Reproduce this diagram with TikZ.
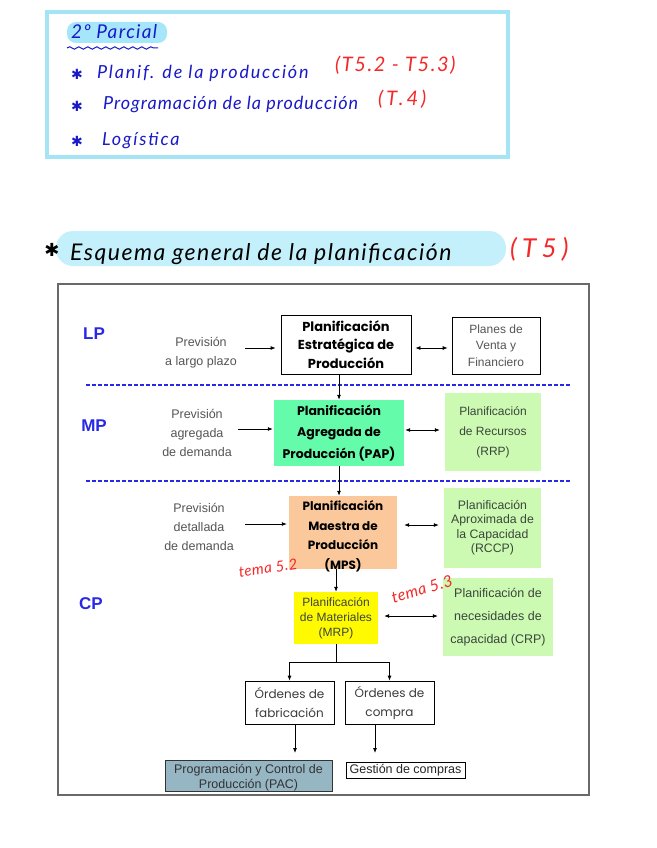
\documentclass[tikz,border=0pt]{standalone}
\usepackage{fontspec}
\setmainfont{Liberation Sans}
\newfontfamily\gothic{Poppins}
\newfontfamily\hand{Lato}
\newfontfamily\symb{DejaVu Sans}
\usetikzlibrary{arrows.meta,decorations.pathmorphing,calc}
\definecolor{boxcyan}{RGB}{165,228,245}
\definecolor{hlcyan}{RGB}{165,230,250}
\definecolor{titlecyan}{RGB}{196,240,251}
\definecolor{hwblue}{RGB}{25,25,200}
\definecolor{hwred}{RGB}{245,40,40}
\definecolor{framegray}{RGB}{105,105,105}
\definecolor{lvblue}{RGB}{40,40,230}
\definecolor{txtgray}{RGB}{85,85,85}
\definecolor{papgreen}{RGB}{100,252,170}
\definecolor{ltgreen}{RGB}{204,250,178}
\definecolor{peach}{RGB}{250,200,155}
\definecolor{mrpyellow}{RGB}{255,250,0}
\definecolor{pacblue}{RGB}{150,182,196}
\definecolor{dtext}{RGB}{60,70,60}
\newcommand{\hw}[2]{\hand\itshape\fontsize{#1}{#1}\selectfont\addfontfeatures{LetterSpace=#2}}
\tikzset{
  arr/.style={-{Latex[length=5pt,width=4pt]}, line width=0.8pt},
  darr/.style={{Latex[length=5pt,width=4pt]}-{Latex[length=5pt,width=4pt]}, line width=0.8pt},
  bx/.style={align=center, inner sep=0pt, anchor=center},
  gtext/.style={bx, text=txtgray, font=\fontsize{12.5}{19}\selectfont},
  lvl/.style={bx, text=lvblue, font=\fontsize{17}{17}\bfseries\selectfont},
  hwt/.style={inner sep=0pt, anchor=base west},
  astk/.style={inner sep=0pt, anchor=center, font=\symb\fontsize{14}{14}\selectfont},
  dline/.style={lvblue, line width=1.3pt, dash pattern=on 4pt off 2pt}
}
\begin{document}
\begin{tikzpicture}[x=1pt,y=-1pt]
\useasboundingbox[fill=white] (0,0) rectangle (656,848);
% ---- top note box
\draw[draw=boxcyan, line width=3.5pt] (47,12) rectangle (508,157);
\fill[hlcyan, rounded corners=9pt] (67,22) rectangle (167,43);
\node[hwt, text=hwblue, font=\hw{19}{7}] (t0) at (71,39) {2º Parcial};
\draw[hwblue, line width=1pt, decorate, decoration={snake, amplitude=1.2pt, segment length=9pt}] (67,48) -- (158,48);
\node[astk, text=hwblue] (s1) at (77,74) {✱};
\node[hwt, text=hwblue, font=\hw{18}{10}] (t1) at (97,79) {Planif. de la producción};
\node[hwt, text=hwred, font=\hw{20}{8}] (t1r) at (335,72) {(T5.2 - T5.3)};
\node[astk, text=hwblue] (s2) at (77,106) {✱};
\node[hwt, text=hwblue, font=\hw{18}{5.5}] (t2) at (103,110) {Programación de la producción};
\node[hwt, text=hwred, font=\hw{20}{15}] (t2r) at (378,106) {(T.4)};
\node[astk, text=hwblue] (s3) at (77,141) {✱};
\node[hwt, text=hwblue, font=\hw{18}{10}] (t3) at (102,145) {Logística};
% ---- title
\fill[titlecyan, rounded corners=17pt] (56,231) rectangle (506,266);
\node[astk, font=\symb\fontsize{18}{18}\selectfont] (s4) at (52,250) {✱};
\node[hwt, font=\hw{23}{6.5}] (title) at (70,260) {Esquema general de la planificación};
\node[hwt, text=hwred, font=\hw{26}{20}] (t5) at (510,257) {(T5)};
% ---- frame
\draw[draw=framegray, line width=2.5pt] (58,284) rectangle (589,795);
\draw[dline] (86,385) -- (571,385);
\draw[dline] (86,481) -- (571,481);
\node[lvl] (lp) at (94,334) {LP};
\node[lvl] (mp) at (94,426) {MP};
\node[lvl] (cp) at (91,604) {CP};
% ---- LP
\node[gtext] (prev1) at (201,353) {Previsión\\a largo plazo};
\node[bx, draw=black, line width=0.8pt, minimum width=130, minimum height=59, font=\gothic\bfseries\fontsize{13}{18.5}\selectfont] (pep) at (346,344.5) {Planificación\\Estratégica de\\Producción};
\node[bx, draw=black, line width=0.7pt, minimum width=88, minimum height=57, text=txtgray, font=\fontsize{12}{16.5}\selectfont] (plan) at (496,345.5) {Planes de\\Venta y\\Financiero};
% ---- MP
\node[gtext] (prev2) at (197,433) {Previsión\\agregada\\de demanda};
\node[bx, fill=papgreen, minimum width=130, minimum height=66, font=\gothic\bfseries\fontsize{12.5}{21.5}\selectfont] (pap) at (339,433) {Planificación\\Agregada de\\Producción (PAP)};
\node[bx, fill=ltgreen, minimum width=96, minimum height=78, text=dtext, font=\fontsize{12}{20}\selectfont] (rrp) at (493,432) {Planificación\\de Recursos\\(RRP)};
% ---- CP
\node[gtext] (prev3) at (199,527) {Previsión\\detallada\\de demanda};
\node[bx, fill=peach, minimum width=108, minimum height=73] (mps) at (343,532.5) {};
\node[bx, font=\gothic\bfseries\fontsize{12}{19.5}\selectfont] (mpstxt) at ([yshift=-3.5pt]mps.center) {Planificación\\Maestra de\\Producción\\(MPS)};
\node[bx, fill=ltgreen, minimum width=97, minimum height=80, text=dtext, font=\fontsize{12.3}{14.5}\selectfont] (rccp) at (492.5,527.5) {Planificación\\Aproximada de\\la Capacidad\\(RCCP)};
\node[bx, fill=mrpyellow, minimum width=84, minimum height=52, text=dtext, font=\fontsize{12}{15}\selectfont] (mrp) at (336,618) {Planificación\\de Materiales\\(MRP)};
\node[bx, fill=ltgreen, minimum width=110, minimum height=78, text=dtext, font=\fontsize{12.5}{23}\selectfont] (crp) at (498,617) {Planificación de\\necesidades de\\capacidad (CRP)};
\node[bx, draw=black, line width=0.7pt, minimum width=89, minimum height=43, text=txtgray!70!black, font=\gothic\fontsize{12}{19}\selectfont] (of) at (289.5,702.5) {Órdenes de\\fabricación};
\node[bx, draw=black, line width=0.7pt, minimum width=89, minimum height=43, text=txtgray!70!black, font=\gothic\fontsize{12}{19}\selectfont] (oc) at (389.5,702.5) {Órdenes de\\compra};
\node[bx, fill=pacblue, draw=black!80, line width=0.7pt, minimum width=167, minimum height=31] (pac) at (248.5,775.5) {};
\node[bx, text=black!80, font=\fontsize{12.5}{15}\selectfont] (pactxt) at ([yshift=-2pt]pac.center) {Programación y Control de\\Producción (PAC)};
\node[bx, draw=black, line width=0.6pt, minimum width=119, minimum height=16, text=black!85, font=\fontsize{12.5}{15}\selectfont] (gc) at (405.5,770) {Gestión de compras};
% ---- handwritten notes
\node[bx, text=hwred, rotate=8, font=\hw{15}{3}] (tema1) at (268,568) {tema 5.2};
\node[bx, text=hwred, rotate=17, font=\hw{16}{3}] (tema2) at (422,589) {tema 5.3};
% ---- connectors
\coordinate (i1) at (245,348);
\draw[arr, shorten >=5pt] (i1) -- (i1 -| pep.west);
\coordinate (i2) at (238,429);
\draw[arr, shorten >=1pt] (i2) -- (i2 -| pap.west);
\coordinate (i3) at (245,524);
\draw[arr, shorten >=2pt] (i3) -- (i3 -| mps.west);
\coordinate (d1) at (0,348);
\draw[darr, shorten <=4pt, shorten >=4pt] (pep.east |- d1) -- (plan.west |- d1);
\coordinate (d2) at (0,430);
\draw[darr, shorten <=1pt, shorten >=5pt] (pap.east |- d2) -- (rrp.west |- d2);
\coordinate (d3) at (0,525);
\draw[darr, shorten <=7pt, shorten >=5pt] (mps.east |- d3) -- (rccp.west |- d3);
\coordinate (d4) at (0,616);
\draw[darr, shorten <=6pt, shorten >=5pt] (mrp.east |- d4) -- (crp.west |- d4);
\draw[arr] (pap.north |- pep.south) -- (pap.north);
\draw[arr] (pap.south) -- (pap.south |- mps.north);
\draw[arr] (mrp.north |- mps.south) -- (mrp.north);
\coordinate (sp) at (336,662);
\draw[line width=0.8pt] (mrp.south) -- (mrp.south |- sp);
\draw[arr] (mrp.south |- sp) -| (of.north);
\draw[arr] (mrp.south |- sp) -| (oc.north);
\coordinate (b1) at (295,753);
\draw[arr] (of.south -| b1) -- (b1);
\coordinate (b2) at (375,753);
\draw[arr] (oc.south -| b2) -- (b2);
\end{tikzpicture}
\end{document}
